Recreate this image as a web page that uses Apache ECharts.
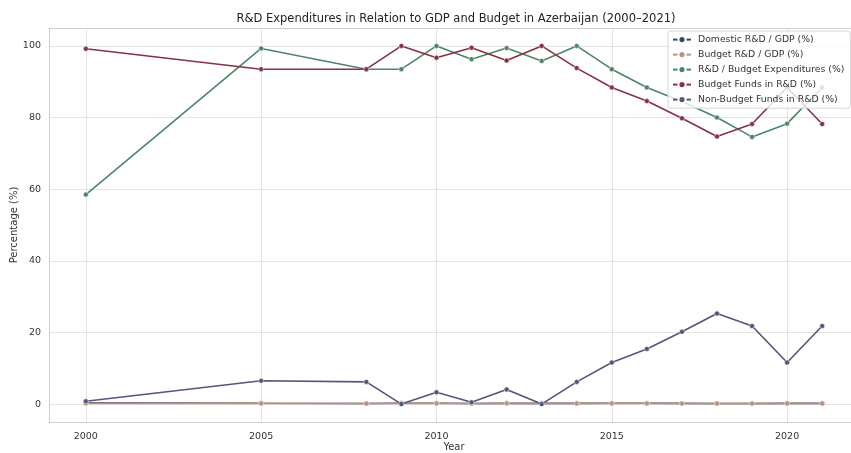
<!DOCTYPE html>
<html>
<head>
<meta charset="utf-8">
<script src="https://cdn.jsdelivr.net/npm/echarts@6/dist/echarts.min.js"></script>
<style>
  html, body { margin: 0; padding: 0; background: #fff; }
  #chart { width: 851px; height: 453px; }
</style>
</head>
<body>
<div id="chart"></div>
<script>
// Years with observations
const years = [2000, 2005, 2008, 2009, 2010, 2011, 2012, 2013, 2014, 2015, 2016, 2017, 2018, 2019, 2020, 2021];

// Indicator values (%)
const domesticRdGdp   = [0.37, 0.22, 0.17, 0.23, 0.22, 0.18, 0.21, 0.21, 0.21, 0.22, 0.23, 0.19, 0.18, 0.18, 0.22, 0.20];
const budgetRdGdp     = [0.20, 0.20, 0.16, 0.22, 0.20, 0.17, 0.20, 0.20, 0.19, 0.19, 0.19, 0.15, 0.14, 0.14, 0.19, 0.16];
const rdBudgetExp     = [58.5, 99.3, 93.5, 93.5, 100.0, 96.3, 99.4, 95.8, 100.0, 93.5, 88.4, 84.5, 80.0, 74.6, 78.3, 88.4];
const budgetFundsRd   = [99.2, 93.5, 93.5, 100.0, 96.7, 99.5, 95.9, 100.0, 93.8, 88.4, 84.6, 79.8, 74.7, 78.2, 88.4, 78.2];
const nonBudgetFundsRd = [0.8, 6.5, 6.2, 0.0, 3.3, 0.5, 4.1, 0.0, 6.2, 11.6, 15.4, 20.2, 25.3, 21.8, 11.6, 21.8];

const seriesNames = [
  'Domestic R&D / GDP (%)',
  'Budget R&D / GDP (%)',
  'R&D / Budget Expenditures (%)',
  'Budget Funds in R&D (%)',
  'Non-Budget Funds in R&D (%)'
];
const seriesValues = [domesticRdGdp, budgetRdGdp, rdBudgetExp, budgetFundsRd, nonBudgetFundsRd];
const seriesColors = ['#3a4868', '#bf8f7b', '#4c8765', '#873046', '#525679'];

const font = 'DejaVu Sans';
const frameColor = '#cfcfcf';
const xMin = 1998.95, xMax = 2022.05;

const chart = echarts.init(document.getElementById('chart'), null, { renderer: 'canvas' });

const series = seriesNames.map((name, i) => ({
  name: name,
  type: 'line',
  xAxisIndex: 0,
  data: years.map((y, k) => [y, seriesValues[i][k]]),
  symbol: 'circle',
  symbolSize: 5,
  lineStyle: { width: 1.6, color: seriesColors[i] },
  itemStyle: { color: seriesColors[i], borderColor: '#fff', borderWidth: 0.5 },
  emphasis: { disabled: true },
  z: 2 + i
}));

const onlyRound = step => v => (Math.abs(v / step - Math.round(v / step)) < 1e-6 ? String(Math.round(v)) : '');

chart.setOption({
  animation: false,
  backgroundColor: '#fff',
  title: {
    text: 'R&D Expenditures in Relation to GDP and Budget in Azerbaijan (2000–2021)',
    left: 451,
    textAlign: 'center',
    top: 8,
    textStyle: { fontFamily: font, fontSize: 11.5, fontWeight: 'normal', color: '#222' }
  },
  grid: {
    left: 49, top: 28, width: 810, height: 394,
    outerBoundsMode: 'none',
    containLabel: false,
    show: false
  },
  legend: {
    orient: 'vertical',
    left: 668, top: 31,
    width: 181,
    padding: [4, 6, 4, 4],
    itemGap: 5.8,
    itemWidth: 18, itemHeight: 9,
    backgroundColor: 'rgba(255,255,255,0.8)',
    borderColor: '#d6d6d6', borderWidth: 1, borderRadius: 3,
    textStyle: { fontFamily: font, fontSize: 9.3, color: '#333', padding: [0, 0, 0, 2] },
    data: seriesNames,
    z: 20
  },
  xAxis: [{
    type: 'value',
    min: xMin, max: xMax,
    splitNumber: 5,
    name: 'Year',
    nameLocation: 'middle',
    nameGap: 20,
    nameMoveOverlap: false,
    nameTextStyle: { fontFamily: font, fontSize: 10, color: '#333' },
    axisLine: { show: true, onZero: false, lineStyle: { color: frameColor, width: 1 } },
    axisTick: { show: false },
    axisLabel: { fontFamily: font, fontSize: 9.5, color: '#333', margin: 10, formatter: onlyRound(5), showMinLabel: false, showMaxLabel: false },
    splitLine: { show: true, lineStyle: { color: '#e3e3e3', width: 1 } }
  }, {
    // top frame edge
    type: 'value',
    position: 'top',
    min: xMin, max: xMax,
    axisLine: { show: true, onZero: false, lineStyle: { color: frameColor, width: 1 } },
    axisTick: { show: false },
    axisLabel: { show: false },
    splitLine: { show: false }
  }],
  yAxis: {
    type: 'value',
    min: -5, max: 105,
    splitNumber: 5,
    name: 'Percentage (%)',
    nameLocation: 'middle',
    nameGap: 30,
    nameRotate: 90,
    nameMoveOverlap: false,
    nameTextStyle: { fontFamily: font, fontSize: 10, color: '#333' },
    axisLine: { show: true, onZero: false, lineStyle: { color: frameColor, width: 1 } },
    axisTick: { show: false },
    axisLabel: { fontFamily: font, fontSize: 9.5, color: '#333', margin: 8, formatter: onlyRound(20), showMinLabel: false, showMaxLabel: false },
    splitLine: { show: true, lineStyle: { color: '#e3e3e3', width: 1 } }
  },
  series: series
});
</script>
</body>
</html>
